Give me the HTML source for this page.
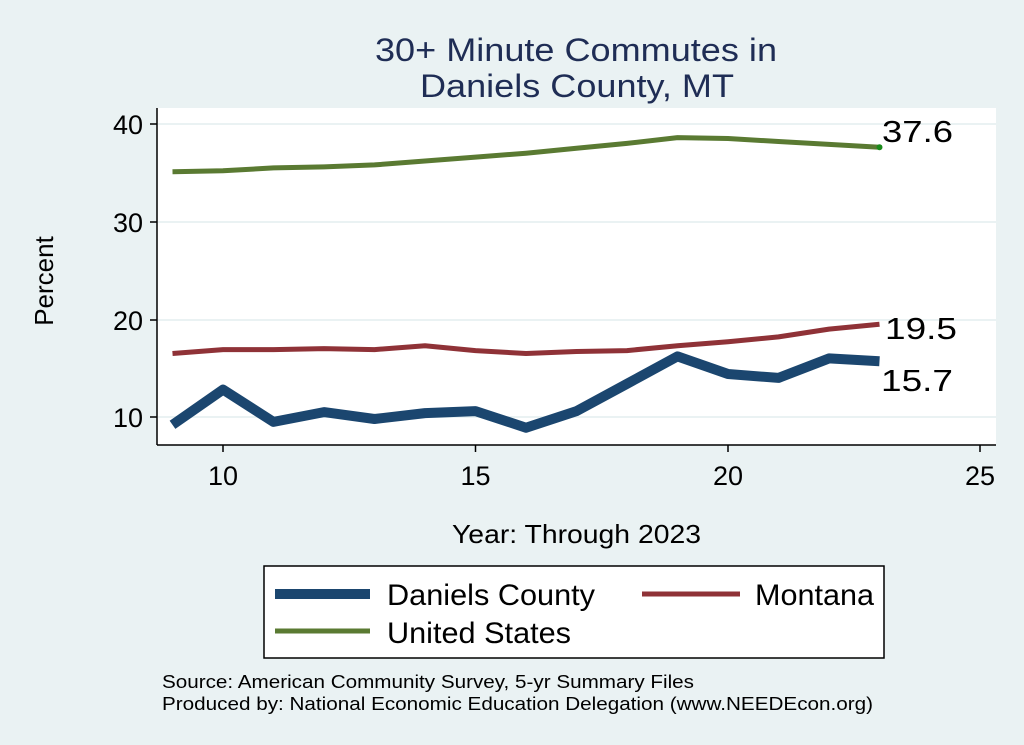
<!DOCTYPE html>
<html><head><meta charset="utf-8"><style>
body{margin:0;background:#EAF2F3;}
svg{display:block;font-family:"Liberation Sans",Arial,sans-serif;}
</style></head><body>
<svg width="1024" height="745" viewBox="0 0 1024 745">
<rect width="1024" height="745" fill="#EAF2F3"/>
<text x="375" y="61" font-size="32" fill="#1F2D55" textLength="402" lengthAdjust="spacingAndGlyphs">30+ Minute Commutes in</text>
<text x="420" y="97" font-size="32" fill="#1F2D55" textLength="314" lengthAdjust="spacingAndGlyphs">Daniels County, MT</text>
<rect x="157" y="108" width="839" height="337" fill="#fff"/>
<g stroke="#EAF2F3" stroke-width="2">
<line x1="158" x2="996" y1="124" y2="124"/><line x1="158" x2="996" y1="222" y2="222"/>
<line x1="158" x2="996" y1="320" y2="320"/><line x1="158" x2="996" y1="417" y2="417"/>
</g>
<g stroke="#000" stroke-width="1.5" fill="none">
<line x1="157" y1="108" x2="157" y2="445"/><line x1="157" y1="445" x2="996" y2="445"/>
<line x1="150" x2="157" y1="124" y2="124"/><line x1="150" x2="157" y1="222" y2="222"/>
<line x1="150" x2="157" y1="320" y2="320"/><line x1="150" x2="157" y1="417" y2="417"/>
<line x1="223" x2="223" y1="445" y2="452"/><line x1="475.5" x2="475.5" y1="445" y2="452"/>
<line x1="728" x2="728" y1="445" y2="452"/><line x1="980" x2="980" y1="445" y2="452"/>
</g>
<g font-size="27" fill="#000" text-anchor="end">
<text x="143" y="134">40</text><text x="143" y="232">30</text><text x="143" y="330">20</text><text x="143" y="427">10</text>
</g>
<g font-size="27" fill="#000" text-anchor="middle">
<text x="223" y="485">10</text><text x="475.5" y="485">15</text><text x="728" y="485">20</text><text x="980" y="485">25</text>
</g>
<text transform="translate(53,281) rotate(-90)" font-size="26" text-anchor="middle">Percent</text>
<text x="452" y="543" font-size="26" textLength="249" lengthAdjust="spacingAndGlyphs">Year: Through 2023</text>
<g fill="none" stroke-linejoin="round">
<polyline stroke="#5A7A32" stroke-width="5" points="172.5,171.8 223,170.8 273.5,167.9 324,166.9 374.5,164.9 425,161 475.5,157.1 526,153.2 576.5,148.3 627,143.4 677.5,137.6 728,138.5 778.5,141.5 829,144.4 879.5,147.3"/>
<polyline stroke="#8F3237" stroke-width="5" points="172.5,353.5 223,349.6 273.5,349.6 324,348.6 374.5,349.6 425,345.7 475.5,350.6 526,353.5 576.5,351.5 627,350.6 677.5,345.7 728,341.8 778.5,336.9 829,329.1 879.5,324.2"/>
<polyline stroke="#1B466F" stroke-width="10" points="172.5,424.8 223,389.6 273.5,421.9 324,412.1 374.5,419 425,413.1 475.5,411.1 526,427.7 576.5,411.1 627,383.8 677.5,356.4 728,374 778.5,377.9 829,358.4 879.5,361.3"/>
</g>
<circle cx="879.5" cy="147.3" r="3" fill="#1a8a1a"/>
<g font-size="31" fill="#000">
<text x="882" y="142" textLength="71" lengthAdjust="spacingAndGlyphs">37.6</text>
<text x="885" y="339" textLength="72" lengthAdjust="spacingAndGlyphs">19.5</text>
<text x="881" y="391" textLength="72" lengthAdjust="spacingAndGlyphs">15.7</text>
</g>
<rect x="264" y="566" width="620" height="92" fill="#fff" stroke="#000" stroke-width="1.5"/>
<line x1="275" x2="370" y1="594" y2="594" stroke="#1B466F" stroke-width="10"/>
<line x1="642" x2="740" y1="594" y2="594" stroke="#8F3237" stroke-width="5"/>
<line x1="275" x2="370" y1="631" y2="631" stroke="#5A7A32" stroke-width="5"/>
<g font-size="30" fill="#000">
<text x="387" y="605" textLength="208" lengthAdjust="spacingAndGlyphs">Daniels County</text>
<text x="755" y="605" textLength="119" lengthAdjust="spacingAndGlyphs">Montana</text>
<text x="387" y="643" textLength="184" lengthAdjust="spacingAndGlyphs">United States</text>
</g>
<g font-size="18" fill="#000">
<text x="162" y="688" textLength="532" lengthAdjust="spacingAndGlyphs">Source: American Community Survey, 5-yr Summary Files</text>
<text x="162" y="710" textLength="711" lengthAdjust="spacingAndGlyphs">Produced by: National Economic Education Delegation (www.NEEDEcon.org)</text>
</g>
</svg>
</body></html>
